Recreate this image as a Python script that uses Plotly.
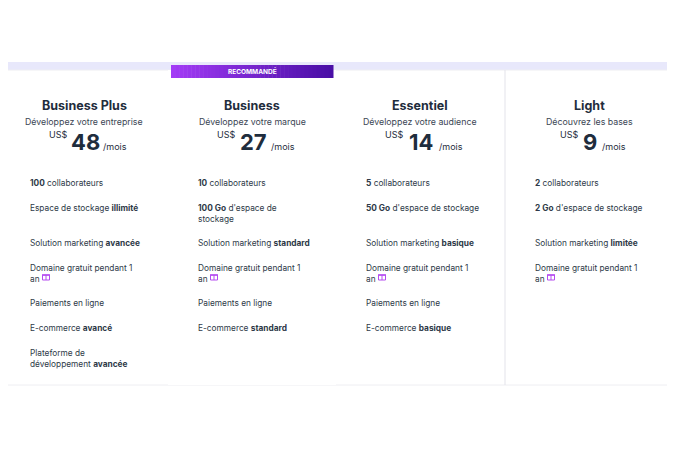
import plotly.graph_objects as go

W, H = 675, 450
OFF = 8  # page body margin pushes the figure by 8px

plans = ["Business Plus", "Business", "Essentiel", "Light"]
taglines = ["Développez votre entreprise", "Développez votre marque",
            "Développez votre audience", "Découvrez les bases"]
prices = [48, 27, 14, 9]
features = [
    ["<b>100</b> collaborateurs", "Espace de stockage <b>illimité</b>",
     "Solution marketing <b>avancée</b>", "Domaine gratuit pendant 1<br>an",
     "Paiements en ligne", "E-commerce <b>avancé</b>",
     "Plateforme de<br>développement <b>avancée</b>"],
    ["<b>10</b> collaborateurs", "<b>100 Go</b> d'espace de<br>stockage",
     "Solution marketing <b>standard</b>", "Domaine gratuit pendant 1<br>an",
     "Paiements en ligne", "E-commerce <b>standard</b>"],
    ["<b>5</b> collaborateurs", "<b>50 Go</b> d'espace de stockage",
     "Solution marketing <b>basique</b>", "Domaine gratuit pendant 1<br>an",
     "Paiements en ligne", "E-commerce <b>basique</b>"],
    ["<b>2</b> collaborateurs", "<b>2 Go</b> d'espace de stockage",
     "Solution marketing <b>limitée</b>", "Domaine gratuit pendant 1<br>an"],
]
badge = "RECOMMANDÉ"

col_left = [0, 168, 336, 505]
col_w = 168
row_y = [182, 207, 242, 267, 302, 327, 352]
ink = "#1f2d3d"
font = "Inter"

shapes, ann = [], []

# lavender band on top
shapes.append(dict(type="rect", x0=0, x1=W, y0=62, y1=70, fillcolor="#e8e8fb", line_width=0))
# cards
shapes.append(dict(type="rect", x0=-2, x1=672, y0=70, y1=385, fillcolor="white",
                   line=dict(color="#eeeef2", width=1)))
# soft shadow around Business card
for i, c in enumerate(["#f6f6fb", "#f9f9fc"]):
    shapes.append(dict(type="rect", x0=166 - 2 * i, x1=338 + 2 * i, y0=70, y1=385,
                       fillcolor=c, line_width=0, layer="below"))
shapes.append(dict(type="rect", x0=168, x1=336, y0=70, y1=385, fillcolor="white", line_width=0))
shapes.append(dict(type="line", x0=505, x1=505, y0=70, y1=385, line=dict(color="#e3e3ea", width=1)))

# gradient banner
n = 40
c0, c1 = (0xa3, 0x3b, 0xf6), (0x4a, 0x0f, 0xa6)
for i in range(n):
    t = i / (n - 1)
    col = "rgb(%d,%d,%d)" % tuple(int(a + (b - a) * t) for a, b in zip(c0, c1))
    shapes.append(dict(type="rect", x0=171 + i * 162 / n, x1=171 + (i + 1) * 162 / n + 0.5,
                       y0=65, y1=78, fillcolor=col, line_width=0))
ann.append(dict(x=252, y=71.5, text="<b>" + badge + "</b>", showarrow=False,
                font=dict(size=6.5, color="white", family=font)))

for k, name in enumerate(plans):
    cx = col_left[k] + col_w / 2
    ann.append(dict(x=cx, y=105, text="<b>" + name + "</b>", showarrow=False,
                    font=dict(size=12.5, color=ink, family=font)))
    ann.append(dict(x=cx, y=121, text=taglines[k], showarrow=False,
                    font=dict(size=8.8, color="#3b4654", family=font)))
    ann.append(dict(x=cx + 1, y=142, text="<b>%d</b>" % prices[k], showarrow=False,
                    xanchor="center", font=dict(size=22, color=ink, family=font)))
    half = 8 if prices[k] < 10 else 14
    ann.append(dict(x=cx - half - 1, y=134, text="US$", showarrow=False, xanchor="right",
                    font=dict(size=9, color=ink, family=font)))
    ann.append(dict(x=cx + half + 3, y=146, text="/mois", showarrow=False, xanchor="left",
                    font=dict(size=9, color=ink, family=font)))
    fx = col_left[k] + 28
    for r, f in enumerate(features[k]):
        ann.append(dict(x=fx, y=row_y[r] - 6, text=f, showarrow=False, xanchor="left",
                        yanchor="top", align="left",
                        font=dict(size=8.3, color="#2e3a48", family=font)))
        if f.startswith("Domaine"):
            gx, gy = fx + 18, row_y[r] + 10
            shapes.append(dict(type="rect", x0=gx - 3.5, x1=gx + 3.5, y0=gy - 2, y1=gy + 3,
                               line=dict(color="#b54cf0", width=1)))
            shapes.append(dict(type="line", x0=gx - 4, x1=gx + 4, y0=gy - 2, y1=gy - 2,
                               line=dict(color="#b54cf0", width=1.5)))
            shapes.append(dict(type="line", x0=gx, x1=gx, y0=gy - 2, y1=gy + 3,
                               line=dict(color="#b54cf0", width=1)))

fig = go.Figure()
fig.update_layout(
    width=W, height=H, margin=dict(l=0, r=0, t=0, b=0),
    paper_bgcolor="white", plot_bgcolor="white",
    xaxis=dict(range=[OFF, W + OFF], visible=False, fixedrange=True),
    yaxis=dict(range=[H + OFF, OFF], visible=False, fixedrange=True),
    shapes=shapes, annotations=ann, showlegend=False,
)
fig.write_html("out.html")
